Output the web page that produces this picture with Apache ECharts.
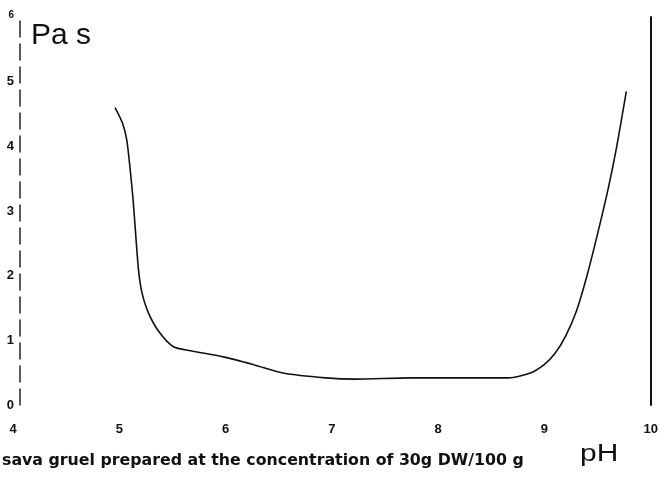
<!DOCTYPE html>
<html><head><meta charset="utf-8">
<script src="https://cdn.jsdelivr.net/npm/echarts@6/dist/echarts.min.js"></script>
<style>html,body{margin:0;padding:0;background:#fff}#c{width:661px;height:479px}</style>
</head><body><div id="c"></div>
<script>
const phValues = [4.96, 5.03, 5.07, 5.10, 5.13, 5.155, 5.18, 5.21, 5.27, 5.37, 5.51, 5.67, 5.99, 6.27, 6.55, 6.94, 7.22, 7.74, 8.20, 8.66, 8.86, 9.00, 9.10, 9.20, 9.30, 9.40, 9.50, 9.60, 9.68, 9.77];
const viscosity = [4.60, 4.36, 4.10, 3.68, 3.17, 2.62, 2.10, 1.76, 1.44, 1.14, 0.90, 0.84, 0.74, 0.62, 0.49, 0.42, 0.40, 0.42, 0.42, 0.42, 0.49, 0.63, 0.80, 1.07, 1.45, 2.00, 2.65, 3.35, 4.00, 4.85];
const xTicks = [4, 5, 6, 7, 8, 9, 10];
const yTicks = [0, 1, 2, 3, 4, 5, 6];
const yAxisTitle = 'Pa s';
const xAxisTitle = 'pH';
const caption = 'sava gruel prepared at the concentration of 30g DW/100 g';

const chart = echarts.init(document.getElementById('c'), null, {renderer: 'canvas'});
const FF = 'Liberation Sans, Arial, sans-serif';
const lblFont = {fontFamily: FF, fontWeight: 'bold', fontSize: 13, color: '#111'};
chart.setOption({
  animation: false,
  backgroundColor: '#fff',
  grid: {left: 13, right: 7, top: 17, bottom: 74, containLabel: false},
  xAxis: {
    type: 'value', min: xTicks[0], max: xTicks[xTicks.length - 1], interval: 1,
    axisLine: {show: false}, axisTick: {show: false}, splitLine: {show: false},
    axisLabel: Object.assign({margin: 18, showMinLabel: true, showMaxLabel: true}, lblFont)
  },
  yAxis: [{
    type: 'value', min: yTicks[0], max: yTicks[yTicks.length - 1], interval: 1,
    offset: -7,
    axisLine: {show: true, lineStyle: {color: '#222', width: 1.5, type: [16, 7]}},
    axisTick: {show: false}, splitLine: {show: false},
    axisLabel: Object.assign({
      margin: 6,
      formatter: v => v === 6 ? '{s|6}' : String(v),
      rich: {s: {fontFamily: FF, fontWeight: 'bold', fontSize: 10, color: '#111', padding: [0, 0, 4, 0]}}
    }, lblFont)
  }, {
    type: 'value', min: 0, max: 6, interval: 1, position: 'right',
    axisLine: {show: true, lineStyle: {color: '#111', width: 2}},
    axisTick: {show: false}, axisLabel: {show: false}, splitLine: {show: false}
  }],
  graphic: [
    {type: 'text', left: 31, top: 21, style: {text: yAxisTitle, font: '30px ' + FF, fill: '#111'}},
    {type: 'text', x: 580, y: 443, scaleX: 1.3, style: {text: xAxisTitle, font: '23px ' + FF, fill: '#111'}},
    {type: 'text', left: 2, top: 453, style: {text: caption, font: 'bold 15.8px DejaVu Sans, sans-serif', fill: '#111'}}
  ],
  series: [{
    type: 'line', smooth: 0.25, showSymbol: false,
    data: phValues.map((p, i) => [p, viscosity[i]]),
    lineStyle: {color: '#111', width: 1.6}
  }]
});
</script></body></html>
